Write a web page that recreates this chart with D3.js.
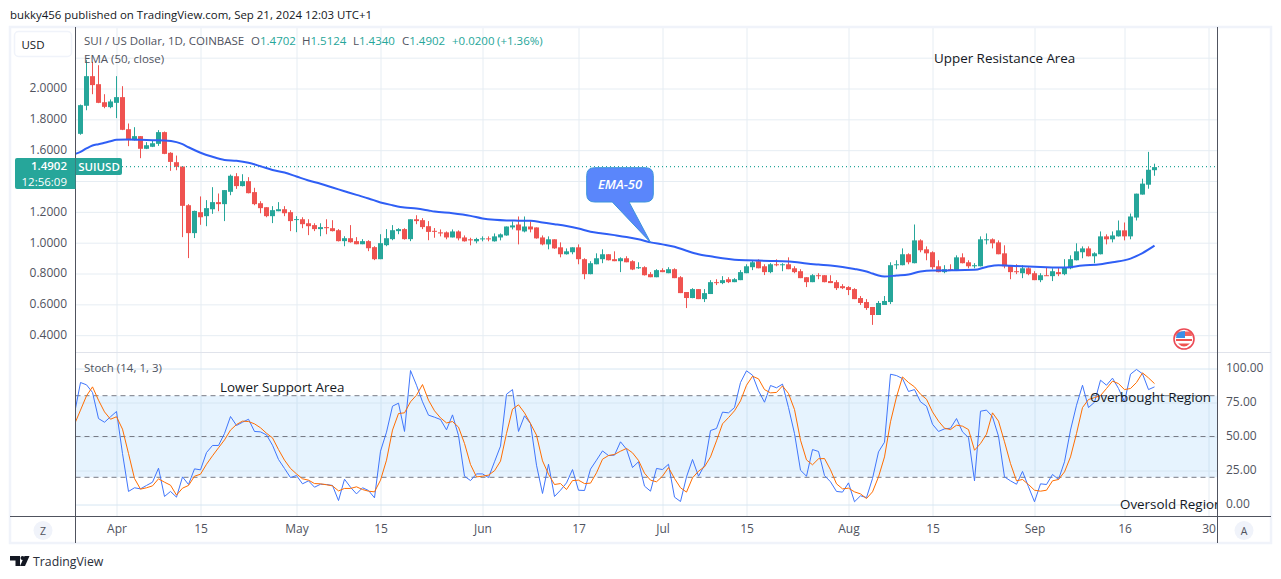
<!DOCTYPE html>
<html><head><meta charset="utf-8"><title>SUIUSD</title>
<script src="https://d3js.org/d3.v7.min.js"></script>
<style>html,body{margin:0;padding:0;background:#fff}svg{display:block}text{font-family:"Open Sans",sans-serif}</style>
</head><body><svg id="c" width="1281" height="579"></svg>
<script>
const firstCandle = "2024-03-26";
const opens = [1.706,1.888,2.08,2.028,1.911,1.879,1.907,1.944,1.736,1.665,
1.691,1.609,1.622,1.641,1.717,1.583,1.522,1.494,1.243,1.062,
1.198,1.172,1.217,1.263,1.25,1.33,1.431,1.367,1.399,1.328,
1.256,1.23,1.172,1.204,1.217,1.198,1.15,1.152,1.126,1.114,
1.088,1.101,1.094,1.081,1.01,1.029,1.01,.99,1.01,.971,
.893,.984,1.023,1.075,1.088,1.023,1.152,1.146,1.107,1.077,
1.067,1.067,1.034,1.073,1.034,1.022,1.009,1.022,1.028,1.009,
1.034,1.047,1.099,1.118,1.073,1.105,1.099,1.034,.989,1.022,
.97,.925,.938,.97,.893,.796,.86,.893,.925,.893,
.88,.899,.88,.834,.841,.796,.776,.822,.802,.828,
.776,.68,.641,.699,.634,.667,.744,.738,.763,.744,
.757,.802,.841,.88,.847,.809,.86,.854,.86,.834,
.815,.776,.744,.789,.789,.751,.744,.718,.712,.699,
.641,.615,.583,.531,.596,.615,.854,.854,.925,.867,
1.015,.957,.938,.847,.809,.828,.822,.905,.873,.847,
.847,1.017,1.022,1.002,.931,.854,.815,.802,.834,.802,
.757,.789,.783,.809,.796,.834,.886,.938,.963,.912,
.925,1.041,1.022,1.041,1.08,1.041,1.163,1.312,1.376,1.4702];
const highs = [1.896,2.184,2.173,2.151,1.963,1.929,2.08,2.015,1.773,1.749,
1.691,1.652,1.665,1.73,1.721,1.587,1.565,1.496,1.25,1.208,
1.30,1.276,1.36,1.319,1.341,1.442,1.451,1.444,1.425,1.356,
1.269,1.23,1.237,1.263,1.237,1.211,1.172,1.165,1.152,1.126,
1.126,1.152,1.146,1.088,1.042,1.114,1.036,1.023,1.016,.977,
1.055,1.088,1.114,1.094,1.094,1.152,1.178,1.159,1.14,1.095,
1.086,1.073,1.086,1.08,1.047,1.032,1.032,1.041,1.041,1.06,
1.06,1.105,1.138,1.17,1.17,1.138,1.099,1.047,1.041,1.022,
1.002,.963,.97,.989,.899,.88,.931,.957,.925,.944,
.905,.912,.886,.873,.847,.809,.828,.834,.841,.834,
.783,.68,.705,.699,.699,.757,.763,.783,.776,.77,
.822,.86,.886,.892,.86,.867,.892,.867,.905,.847,
.828,.776,.796,.802,.789,.789,.757,.731,.718,.705,
.654,.634,.583,.622,.654,.873,.886,.963,.931,1.118,
1.022,.976,.944,.886,.854,.86,.918,.931,.886,.867,
1.041,1.06,1.028,1.015,.983,.854,.86,.854,.841,.815,
.802,.841,.834,.841,.893,.918,.996,.976,.976,.938,
1.073,1.054,1.073,1.144,1.131,1.189,1.318,1.415,1.589,1.5124];
const lows = [1.70,1.859,1.963,1.905,1.872,1.872,1.808,1.73,1.626,1.663,
1.548,1.607,1.62,1.628,1.574,1.466,1.47,1.036,.90,1.03,
1.116,1.107,1.187,1.204,1.14,1.308,1.349,1.365,1.32,1.243,
1.191,1.165,1.127,1.204,1.172,1.075,1.068,1.094,1.049,1.075,
1.042,1.055,1.073,1.008,.977,1.0,.99,.99,.945,.887,
.893,.977,1.016,1.055,1.02,1.01,1.12,1.088,1.016,1.032,
1.041,1.022,1.034,1.015,1.007,.983,.996,1.009,1.009,1.007,
1.015,1.045,1.086,.989,1.067,1.067,1.026,.983,.957,.96,
.905,.923,.925,.86,.763,.795,.86,.867,.885,.88,
.809,.873,.822,.83,.787,.776,.776,.809,.802,.77,
.673,.576,.64,.634,.615,.667,.725,.731,.738,.744,
.757,.802,.822,.834,.79,.802,.847,.815,.828,.802,
.77,.712,.744,.763,.743,.738,.693,.699,.66,.634,
.596,.564,.467,.531,.596,.602,.828,.853,.86,.866,
.938,.886,.828,.808,.802,.821,.821,.866,.834,.834,
.846,.989,.963,.925,.834,.763,.796,.77,.789,.757,
.744,.785,.751,.783,.789,.828,.885,.899,.911,.867,
.924,.989,1.002,1.04,1.015,1.022,1.144,1.312,1.35,1.434];
const closes = [1.892,2.08,2.022,1.907,1.881,1.916,1.944,1.732,1.665,1.691,
1.609,1.632,1.645,1.717,1.576,1.524,1.492,1.239,1.062,1.206,
1.165,1.224,1.263,1.25,1.341,1.434,1.367,1.399,1.321,1.25,
1.224,1.172,1.211,1.217,1.191,1.14,1.153,1.12,1.107,1.088,
1.101,1.094,1.075,1.01,1.029,1.003,.99,1.01,.964,.893,
.997,1.029,1.081,1.088,1.023,1.152,1.14,1.101,1.07,1.071,
1.06,1.034,1.073,1.028,1.009,1.015,1.024,1.028,1.022,1.041,
1.054,1.105,1.112,1.08,1.105,1.086,1.028,.989,1.022,.963,
.925,.944,.97,.893,.796,.867,.899,.925,.886,.88,
.899,.873,.826,.841,.789,.776,.822,.809,.828,.77,
.673,.641,.699,.634,.673,.744,.738,.757,.744,.763,
.809,.847,.873,.834,.809,.86,.854,.86,.828,.809,
.77,.744,.789,.783,.744,.738,.705,.705,.693,.634,
.609,.576,.531,.609,.622,.854,.86,.925,.873,1.015,
.951,.931,.841,.809,.828,.822,.905,.867,.847,.854,
1.022,1.022,.996,.925,.847,.809,.809,.834,.796,.757,
.789,.785,.815,.796,.841,.893,.944,.963,.912,.931,
1.041,1.022,1.047,1.08,1.041,1.17,1.318,1.383,1.473,1.4902];

const emaCandle = [-1,0,1,2,3,4,5,6,8,10,12,14,16,17,18,20,22,24,26,28,30,32,34,36,38,40,42,44,46,48,50,52,54,56,58,59,62,65,67,69,71,73,75,77,79,81,83,85,87,89,91,93,95,97,99,101,103,105,107,109,111,113,115,117,119,121,123,125,127,129,131,132,133,134,136,138,140,142,144,146,149,151,153,155,158,161,164,167,170,172,175,177,179];
const emaValue = [1.574,1.589,1.611,1.630,1.639,1.648,1.658,1.667,1.669,1.667,1.665,1.663,1.652,1.639,1.619,1.583,1.557,1.537,1.531,1.518,1.496,1.472,1.455,1.429,1.403,1.382,1.358,1.334,1.310,1.287,1.261,1.243,1.228,1.222,1.209,1.202,1.191,1.174,1.157,1.148,1.144,1.143,1.142,1.131,1.120,1.108,1.092,1.071,1.06,1.049,1.037,1.022,1.002,.989,.974,.948,.925,.912,.899,.89,.886,.884,.882,.88,.875,.865,.858,.852,.843,.83,.813,.8,.787,.781,.787,.794,.813,.819,.819,.822,.824,.843,.854,.85,.845,.841,.839,.852,.86,.873,.897,.933,.981];

const stochStart = "2024-03-25";
const stochK = [66.9,89.7,88.0,82.4,63.2,60.5,64.5,68.4,37.5,9.6,12.3,11.5,14.0,16.4,26.7,5.9,9.6,5.4,20.3,14.7,26.2,25.5,38.2,43.4,43.4,52.2,64.7,58.1,60.5,62.7,53.7,53.4,51.2,43.6,33.1,26.5,19.8,21.3,15.2,17.4,12.7,14.9,14.7,14.0,2.9,18.6,12.7,7.8,12.3,10.3,4.9,39.2,53.2,72.3,74.5,53.7,98.5,87.7,75.5,65.7,64.2,62.5,54.9,65.9,50.7,20.8,17.6,22.5,22.5,19.8,31.4,42.9,81.1,84.5,53.7,65.2,59.5,28.9,8.1,29.6,5.9,10.5,15.9,25.7,10.5,10.3,26.0,32.6,39.4,36.0,36.3,46.1,40.7,27.2,31.4,13.5,9.8,26.5,25.7,29.6,5.4,2.2,20.3,33.1,20.8,28.9,54.4,55.9,67.9,67.4,71.3,89.7,98.3,95.1,83.6,75.2,87.5,85.8,88.5,71.3,52.2,25.2,20.8,40.4,39.0,21.3,16.7,9.6,9.1,15.9,2.0,6.4,5.1,19.1,38.7,45.8,95.8,94.8,92.6,83.1,84.5,75.5,72.3,59.0,53.7,55.6,56.1,63.2,53.4,49.2,17.4,68.6,69.4,64.5,50.2,20.3,17.4,14.9,24.3,13.0,2.0,15.2,14.7,22.1,18.4,31.4,54.7,73.0,87.7,71.3,75.2,91.4,87.7,92.9,85.3,75.5,95.8,99.3,96.1,84.5,86.5];
const stochD = [59.0,69.4,79.9,86.5,76.7,68.1,62.7,64.5,55.4,37.5,19.1,11.3,12.3,13.7,18.9,16.4,14.2,6.9,12.0,14.0,20.8,22.3,29.6,35.8,41.7,47.5,54.7,58.8,61.3,61.0,59.3,56.4,52.4,49.0,40.4,32.6,26.5,22.5,18.9,17.9,15.4,15.2,14.5,13.7,10.0,11.8,11.8,13.0,11.0,9.8,9.3,17.9,32.6,54.7,66.9,67.4,75.5,80.4,88.2,76.7,68.9,63.7,60.0,61.0,56.9,44.9,29.4,20.3,20.8,21.6,24.8,31.9,52.2,70.1,73.3,67.4,59.5,51.0,32.1,22.3,14.7,15.4,11.0,17.6,17.9,15.4,15.7,23.3,33.3,36.0,36.8,39.2,41.2,38.0,32.4,23.0,17.9,16.7,20.8,27.2,19.1,12.3,9.1,19.6,24.5,27.7,35.0,46.8,59.3,63.9,68.9,76.2,87.7,94.3,92.4,84.5,82.1,82.4,87.2,81.6,69.8,47.3,32.8,29.2,33.6,33.8,25.5,15.2,11.5,12.0,9.3,7.8,4.4,9.3,20.3,35.0,60.8,79.1,93.8,89.7,86.5,81.1,77.4,68.1,61.3,56.1,55.1,58.3,57.6,55.1,39.9,44.8,51.7,67.4,61.3,46.1,30.1,17.4,18.4,14.7,10.5,9.8,10.5,17.4,18.4,24.0,35.0,52.2,71.3,77.2,78.6,80.1,85.3,90.7,88.9,84.5,85.3,89.7,96.8,93.1,88.9];

const priceTicks = [2.0,1.8,1.6,1.2,1.0,0.8,0.6,0.4];
const priceGrid = [2.2,2.0,1.8,1.6,1.4,1.2,1.0,0.8,0.6,0.4];
const stochTicks = [100,75,50,25,0];
const dateTicks = ["2024-04-01","2024-04-15","2024-05-01","2024-05-15","2024-06-01","2024-06-17","2024-07-01","2024-07-15","2024-08-01","2024-08-15","2024-09-01","2024-09-16","2024-09-30"];
const dateLabels = ["Apr","15","May","15","Jun","17","Jul","15","Aug","15","Sep","16","30"];

const GREEN="#26a69a", RED="#ef5350", GRID="#e6edf3", TEXT="#50535e", DARK="#131722";
const svg=d3.select("#c");
const day=s=>new Date(s+"T00:00:00Z");
const start=day(firstCandle), kStart=day(stochStart);
const x=d3.scaleUtc().domain([day("2024-04-01"),day("2024-09-30")]).range([116.5,1208.5]);
const yP=d3.scaleLinear().domain([2,0.4]).range([88.5,335.2]);
const yS=d3.scaleLinear().domain([100,0]).range([368.5,504.5]);
const L=75.5,R=1217.5,T=27,MID=352.5,B=516.5,BOT=543,OUTR=1271;
const candleX=i=>x(d3.utcDay.offset(start,i));

const defs=svg.append("defs");
defs.append("clipPath").attr("id","top").append("rect").attr("x",L).attr("y",T).attr("width",R-L).attr("height",MID-T);
defs.append("clipPath").attr("id","bot").append("rect").attr("x",L).attr("y",MID).attr("width",R-L).attr("height",B-MID);

// header
svg.append("text").attr("x",10).attr("y",19).attr("font-size",11.45).attr("fill",DARK).text("bukky456 published on TradingView.com, Sep 21, 2024 12:03 UTC+1");

// panes background grid via axes
const vGrid=svg.append("g").attr("transform",`translate(0,${T})`).call(d3.axisBottom(x).tickValues(dateTicks.map(day)).tickSize(B-T).tickFormat(""));
vGrid.select(".domain").remove(); vGrid.selectAll("line").attr("stroke",GRID);
const hGrid=svg.append("g").attr("transform",`translate(${R},0)`).call(d3.axisLeft(yP).tickValues(priceGrid).tickSize(R-L).tickFormat(""));
hGrid.select(".domain").remove(); hGrid.selectAll("line").attr("stroke",GRID);

// stochastic band
svg.append("rect").attr("x",L).attr("width",R-L).attr("y",yS(80)).attr("height",yS(20)-yS(80)).attr("fill","#2196f3").attr("fill-opacity",.115);
const sGrid=svg.append("g").attr("transform",`translate(${R},0)`).call(d3.axisLeft(yS).tickValues(stochTicks).tickSize(R-L).tickFormat(""));
sGrid.select(".domain").remove(); sGrid.selectAll("line").attr("stroke","#d6e6f2");
[80,50,20].forEach(v=>svg.append("line").attr("x1",L).attr("x2",R).attr("y1",yS(v)).attr("y2",yS(v)).attr("stroke","#787b86").attr("stroke-dasharray","5 4"));

// candles
const idx=d3.range(opens.length);
const cg=svg.append("g").attr("clip-path","url(#top)");
const colr=i=>closes[i]>=opens[i]?GREEN:RED;
cg.selectAll("line.w").data(idx).join("line").attr("class","w").attr("x1",candleX).attr("x2",candleX)
  .attr("y1",i=>yP(highs[i])).attr("y2",i=>yP(lows[i])).attr("stroke",colr).attr("stroke-width",1);
cg.selectAll("rect.b").data(idx).join("rect").attr("class","b").attr("x",i=>candleX(i)-2.5).attr("width",5)
  .attr("y",i=>yP(Math.max(opens[i],closes[i]))).attr("height",i=>Math.max(1,Math.abs(yP(opens[i])-yP(closes[i])))).attr("fill",colr);

// last price
const last=closes[closes.length-1];
cg.append("line").attr("x1",122).attr("x2",R).attr("y1",yP(last)-0.5).attr("y2",yP(last)-0.5).attr("stroke",GREEN).attr("stroke-dasharray","1 3").attr("stroke-width",1.2);

// EMA
const emaLine=d3.line().x((d,i)=>candleX(emaCandle[i])).y(d=>yP(d)).curve(d3.curveMonotoneX);
cg.append("path").attr("d",emaLine(emaValue)).attr("fill","none").attr("stroke","#2f5ff5").attr("stroke-width",2);

// stochastic
const sg=svg.append("g").attr("clip-path","url(#bot)");
const sLine=d3.line().x((d,i)=>x(d3.utcDay.offset(kStart,i))).y(d=>yS(d));
sg.append("path").attr("d",sLine(stochK)).attr("fill","none").attr("stroke","#3f75fb").attr("stroke-width",1);
sg.append("path").attr("d",sLine(stochD)).attr("fill","none").attr("stroke","#ff6d00").attr("stroke-width",1);

// annotations
const ann=svg.append("g").attr("font-size",13.4).attr("fill",DARK);
ann.append("text").attr("x",934).attr("y",63).text("Upper Resistance Area");
ann.append("text").attr("x",220).attr("y",392).text("Lower Support Area");
ann.append("text").attr("x",1090).attr("y",402).text("Overbought Region");
svg.append("g").attr("clip-path","url(#bot)").append("text").attr("x",1120).attr("y",509).attr("font-size",13.4).attr("fill",DARK).text("Oversold Region");

// callout
const tipX=candleX(95), tipY=yP(1.002);
const cx0=586.7,cx1=653.3,cy0=167.7,cy1=202,r=8;
svg.append("path").attr("d",`M${cx0+r},${cy0}H${cx1-r}Q${cx1},${cy0} ${cx1},${cy0+r}V${cy1-r}Q${cx1},${cy1} ${cx1-r},${cy1}H629L${tipX},${tipY}L612.3,${cy1}H${cx0+r}Q${cx0},${cy1} ${cx0},${cy1-r}V${cy0+r}Q${cx0},${cy0} ${cx0+r},${cy0}Z`)
  .attr("fill","#5a86fb").attr("stroke","#3a93dc").attr("stroke-width",1);
svg.append("text").attr("x",620).attr("y",189).attr("text-anchor","middle").attr("font-size",13).attr("font-weight",600).attr("font-style","italic").attr("fill","#fff").text("EMA-50");

// frame and axes lines
svg.append("rect").attr("x",10).attr("y",27).attr("width",OUTR-10).attr("height",BOT-27).attr("fill","none").attr("stroke","#f0f3fa").attr("stroke-width",2.5);
svg.append("line").attr("x1",L).attr("x2",OUTR).attr("y1",MID).attr("y2",MID).attr("stroke","#e0e3eb");
svg.append("line").attr("x1",10).attr("x2",OUTR).attr("y1",B).attr("y2",B).attr("stroke","#50535e");
[L,R].forEach(v=>svg.append("line").attr("x1",v).attr("x2",v).attr("y1",T).attr("y2",BOT).attr("stroke","#50535e"));

// axis labels
const fmtAxis=(g,size)=>{g.select(".domain").remove();g.selectAll("line").remove();g.selectAll("text").attr("font-size",size).attr("font-family",'"Open Sans",sans-serif').attr("fill",TEXT);};
const lAxis=svg.append("g").attr("transform","translate(67,-0.5)").call(d3.axisLeft(yP).tickValues(priceTicks).tickSize(0).tickPadding(0).tickFormat(d3.format(".4f")));
fmtAxis(lAxis,12);
const rAxis=svg.append("g").attr("transform","translate(1226,-0.5)").call(d3.axisRight(yS).tickValues(stochTicks).tickSize(0).tickPadding(0).tickFormat(d3.format(".2f")));
fmtAxis(rAxis,12);
const bAxis=svg.append("g").attr("transform","translate(0,521)").call(d3.axisBottom(x).tickValues(dateTicks.map(day)).tickSize(0).tickPadding(3).tickFormat((d,i)=>dateLabels[i]));
fmtAxis(bAxis,12);

// USD button
svg.append("rect").attr("x",14.5).attr("y",31.5).attr("width",57).attr("height",25).attr("rx",4).attr("fill","#fff").attr("stroke","#f0f3fa").attr("stroke-width",1.5);
svg.append("text").attr("x",33).attr("y",49).attr("text-anchor","middle").attr("font-size",11.5).attr("fill",DARK).text("USD");

// legend rows
const leg=svg.append("g").attr("font-size",11.5);
leg.append("text").attr("x",84).attr("y",45).attr("fill",TEXT).text("SUI / US Dollar, 1D, COINBASE");
[[251,"O","1.4702"],[302,"H","1.5124"],[353,"L","1.4340"],[402,"C","1.4902"]].forEach(([px,a,b])=>{
  const t=leg.append("text").attr("x",px).attr("y",45).attr("fill",TEXT).text(a);
  t.append("tspan").attr("fill",GREEN).text(b);
});
leg.append("text").attr("x",452).attr("y",45).attr("fill",GREEN).text("+0.0200");
leg.append("text").attr("x",497).attr("y",45).attr("fill",GREEN).text("(+1.36%)");
leg.append("text").attr("x",84).attr("y",63).attr("fill",TEXT).text("EMA (50, close)");
leg.append("text").attr("x",84).attr("y",372).attr("fill",TEXT).text("Stoch (14, 1, 3)");

// price badge
svg.append("path").attr("d","M17,158H75.5V189H17Q15,189 15,187V160Q15,158 17,158Z").attr("fill",GREEN);
svg.append("text").attr("x",67).attr("y",170).attr("text-anchor","end").attr("font-size",11.5).attr("font-weight",600).attr("fill","#fff").text(d3.format(".4f")(last));
svg.append("text").attr("x",67).attr("y",185.5).attr("text-anchor","end").attr("font-size",11.5).attr("fill","#fff").text("12:56:09");
svg.append("path").attr("d","M76,158H120Q122,158 122,160V173Q122,175 120,175H76Z").attr("fill",GREEN);
svg.append("text").attr("x",99).attr("y",171).attr("text-anchor","middle").attr("font-size",11.5).attr("font-weight",600).attr("fill","#fff").text("SUIUSD");

// Z and A buttons
[[43,"Z"],[1244,"A"]].forEach(([cx,s])=>{
  svg.append("circle").attr("cx",cx).attr("cy",530.5).attr("r",9.5).attr("fill","#f0f3fa");
  svg.append("text").attr("x",cx).attr("y",534.5).attr("text-anchor","middle").attr("font-size",10.5).attr("fill",TEXT).text(s);
});

// flag icon
const fl=svg.append("g").attr("transform","translate(1184,339)");
fl.append("circle").attr("r",10).attr("fill","#fff").attr("stroke","#ec4a55").attr("stroke-width",1.6);
fl.append("path").attr("d","M-7,-7.5H7Q8,-5 8,-3H-8Q-8,-5 -7,-7.5Z").attr("fill","#ef5350").attr("opacity",.9);
fl.append("path").attr("d","M-8,0H8V2H-8Z").attr("fill","#ef5350");
fl.append("path").attr("d","M-6,4.5H6Q3,7.5 0,7.5Q-3,7.5 -6,4.5Z").attr("fill","#ef5350");
fl.append("path").attr("d","M-8,-1H1V-8Q-3,-8 -6,-6Q-8,-4 -8,-1Z").attr("fill","#3a8fe8");

// logo
const lg=svg.append("g").attr("fill",DARK);
lg.append("path").attr("d","M10,556H20V566H15.5V560.5H10Z");
lg.append("circle").attr("cx",22.5).attr("cy",558).attr("r",2);
lg.append("path").attr("d","M24.5,556H29.5L25,566H20Z");
svg.append("text").attr("x",33).attr("y",566).attr("font-size",12.3).attr("fill","#2a2e39").text("TradingView");
</script></body></html>
